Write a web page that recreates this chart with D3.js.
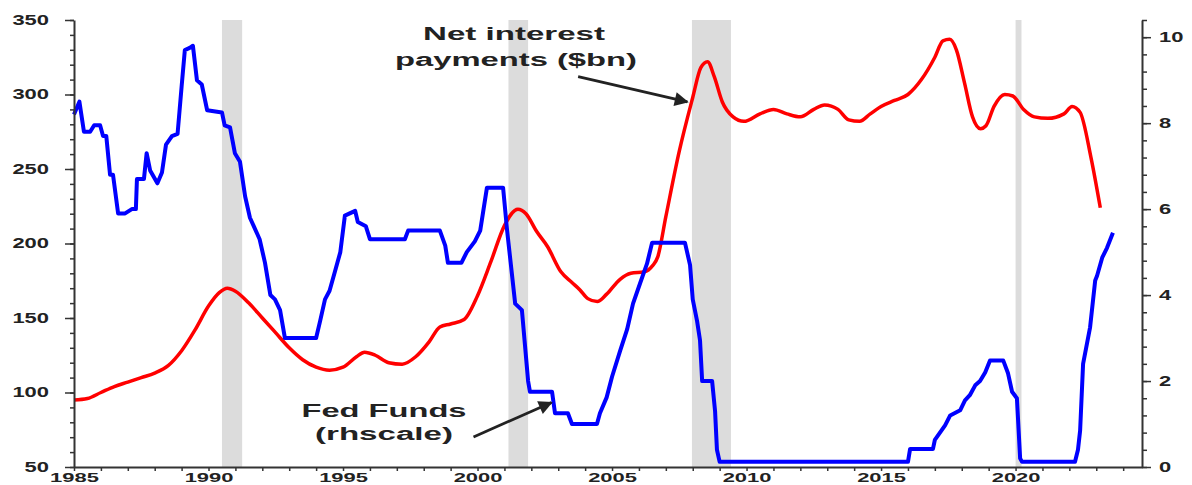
<!DOCTYPE html>
<meta charset="utf-8">
<style>
    body { margin: 0; background: #fff; }
    text { font-family: "Liberation Sans", Arial, sans-serif; font-weight: bold; fill: #222; }
</style>
<svg width="1192" height="485"></svg>
<script src="https://d3js.org/d3.v7.min.js"></script>
<script>

    // net interest payments ($bn), left scale
    var netYears = [1985.0, 1985.5, 1986.0, 1986.5, 1987.0, 1987.5, 1988.0, 1988.5, 1989.0, 1989.5,
        1990.0, 1990.4, 1990.7, 1991.0, 1991.5, 1992.0, 1992.5, 1993.0, 1993.5, 1994.0,
        1994.5, 1995.0, 1995.5, 1995.8, 1996.2, 1996.7, 1997.2, 1997.7, 1998.2, 1998.6,
        1999.0, 1999.5, 2000.0, 2000.5, 2001.0, 2001.5, 2001.8, 2002.2, 2002.6, 2003.1,
        2003.5, 2003.8, 2004.1, 2004.45, 2004.8, 2005.3, 2005.7, 2006.2, 2006.5, 2006.7,
        2007.0, 2007.5, 2008.0, 2008.3, 2008.55, 2008.8, 2009.1, 2009.5, 2009.9, 2010.5,
        2011.0, 2011.5, 2012.0, 2012.5, 2012.9, 2013.4, 2013.8, 2014.2, 2014.6, 2015.0,
        2015.5, 2016.0, 2016.5, 2017.0, 2017.3, 2017.55, 2017.8, 2018.1, 2018.4, 2018.7,
        2018.9, 2019.2, 2019.6, 2019.9, 2020.3, 2020.7, 2021.2, 2021.8, 2022.1, 2022.4,
        2022.8, 2023.15];
    var netPay = [95, 96, 100, 104, 107, 110, 113, 118, 128, 142,
        158, 167, 170, 168, 160, 150, 140, 130, 122, 117,
        115, 117, 124, 127, 125, 120, 119, 124, 134, 144,
        146, 149, 165, 188, 212, 223, 220, 208, 198, 181,
        174, 169, 163, 161, 166, 176, 180, 181, 185, 191,
        218, 262, 298, 318, 322, 312, 295, 285, 282, 287,
        290, 287, 285, 290, 293, 290, 283, 282, 287, 292,
        296, 300, 310, 325, 336, 337, 330, 308, 285, 277,
        279, 292, 300, 299, 290, 285, 284, 287, 292, 288,
        258, 224];

    // fed funds rate (%), right scale
    var fedYears = [1985.0, 1985.2, 1985.37, 1985.6, 1985.75, 1985.97, 1986.08, 1986.2, 1986.34, 1986.45,
        1986.64, 1986.9, 1987.15, 1987.3, 1987.34, 1987.6, 1987.7, 1987.83, 1988.1, 1988.27,
        1988.42, 1988.64, 1988.85, 1989.0, 1989.12, 1989.3, 1989.42, 1989.57, 1989.75, 1989.95,
        1990.5, 1990.6, 1990.8, 1990.98, 1991.17, 1991.36, 1991.54, 1991.9, 1992.1, 1992.3,
        1992.47, 1992.66, 1992.84, 1994.0, 1994.15, 1994.33, 1994.5, 1994.7, 1994.9, 1995.07,
        1995.45, 1995.55, 1995.85, 1996.0, 1997.3, 1997.42, 1998.6, 1998.8, 1998.9, 1999.4,
        1999.6, 1999.9, 2000.1, 2000.2, 2000.35, 2000.95, 2001.1, 2001.4, 2001.65, 2001.88,
        2001.95, 2002.77, 2002.88, 2003.36, 2003.51, 2004.44, 2004.55, 2004.8, 2005.0, 2005.3,
        2005.56, 2005.78, 2006.04, 2006.3, 2006.49, 2007.71, 2007.9, 2008.0, 2008.16, 2008.27,
        2008.35, 2008.72, 2008.83, 2008.9, 2009.0, 2016.0, 2016.08, 2016.93, 2017.0, 2017.38,
        2017.57, 2017.94, 2018.12, 2018.3, 2018.5, 2018.68, 2018.87, 2019.05, 2019.54, 2019.72,
        2019.87, 2020.05, 2020.17, 2020.24, 2022.21, 2022.32, 2022.4, 2022.51, 2022.77, 2022.96,
        2023.03, 2023.22, 2023.4, 2023.62];
    var fedRate = [8.2, 8.5, 7.8, 7.8, 7.95, 7.95, 7.7, 7.7, 6.8, 6.8,
        5.9, 5.9, 6.0, 6.0, 6.7, 6.7, 7.3, 6.9, 6.6, 6.85,
        7.5, 7.7, 7.75, 8.85, 9.7, 9.75, 9.8, 9.0, 8.9, 8.3,
        8.25, 7.95, 7.9, 7.3, 7.1, 6.3, 5.8, 5.3, 4.75, 4.0,
        3.9, 3.65, 3.0, 3.0, 3.4, 3.9, 4.1, 4.55, 5.0, 5.85,
        5.96, 5.7, 5.6, 5.3, 5.3, 5.5, 5.5, 5.15, 4.75, 4.75,
        5.0, 5.25, 5.5, 5.9, 6.5, 6.5, 5.5, 3.8, 3.65, 2.0,
        1.75, 1.75, 1.25, 1.25, 1.0, 1.0, 1.25, 1.62, 2.1, 2.7,
        3.2, 3.8, 4.27, 4.73, 5.22, 5.22, 4.7, 3.9, 3.4, 2.95,
        2.0, 2.0, 1.3, 0.4, 0.12, 0.12, 0.42, 0.42, 0.63, 0.97,
        1.2, 1.32, 1.55, 1.67, 1.9, 2.0, 2.2, 2.48, 2.48, 2.18,
        1.75, 1.6, 0.2, 0.12, 0.12, 0.4, 0.85, 2.4, 3.25, 4.34,
        4.45, 4.87, 5.1, 5.45];

    // recessions (shaded)
    var recStart = [1990.5, 2001.15, 2007.97, 2020.0];
    var recEnd = [1991.25, 2001.88, 2009.42, 2020.22];

    var leftTicks = [50, 100, 150, 200, 250, 300, 350];
    var rightTicks = [0, 2, 4, 6, 8, 10];
    var yearTicks = [1985, 1990, 1995, 2000, 2005, 2010, 2015, 2020];

    var svg = d3.select("svg");

    var x = d3.scaleLinear().domain([1985, 2024.7]).range([74, 1142]);
    var yL = d3.scaleLinear().domain([50, 350]).range([467, 20]);
    var yR = d3.scaleLinear().domain([0, 10.4]).range([467, 20]);

    // shaded recessions
    svg.append("g").selectAll("rect")
        .data(recStart)
        .enter().append("rect")
        .attr("x", function (d) { return x(d); })
        .attr("width", function (d, i) { return x(recEnd[i]) - x(d); })
        .attr("y", yL(350))
        .attr("height", yL(50) - yL(350))
        .attr("fill", "#dcdcdc");

    var netData = netYears.map(function (d, i) { return [d, netPay[i]]; });
    var fedData = fedYears.map(function (d, i) { return [d, fedRate[i]]; });

    svg.append("path")
        .datum(netData)
        .attr("fill", "none")
        .attr("stroke", "#ff0000")
        .attr("stroke-width", 3.5)
        .attr("stroke-linejoin", "round")
        .attr("d", d3.line()
            .curve(d3.curveMonotoneX)
            .x(function (d) { return x(d[0]); })
            .y(function (d) { return yL(d[1]); }));

    svg.append("path")
        .datum(fedData)
        .attr("fill", "none")
        .attr("stroke", "#0000ff")
        .attr("stroke-width", 4)
        .attr("stroke-linejoin", "round")
        .attr("d", d3.line()
            .x(function (d) { return x(d[0]); })
            .y(function (d) { return yR(d[1]); }));

    // axes
    function styleAxis(g, size) {
        g.select(".domain").attr("stroke", "#333").attr("stroke-width", 2);
        g.selectAll(".tick line").attr("stroke", "#333").attr("stroke-width", 1.5);
        g.selectAll(".tick text")
            .attr("font-size", size)
            .attr("fill", "#222")
            .attr("lengthAdjust", "spacingAndGlyphs")
            .attr("textLength", function () { return this.textContent.length * 12.2; });
    }

    svg.append("g")
        .attr("transform", "translate(74,0)")
        .call(d3.axisLeft(yL).tickValues(d3.range(50, 351, 10)).tickSize(4).tickFormat(""))
        .call(function (g) { g.select(".domain").remove(); g.selectAll("line").attr("stroke", "#333").attr("stroke-width", 1.5); });
    svg.append("g")
        .attr("transform", "translate(74,0)")
        .call(d3.axisLeft(yL).tickValues(leftTicks).tickSize(9).tickSizeOuter(0).tickPadding(16))
        .call(styleAxis, 14);

    svg.append("g")
        .attr("transform", "translate(1142,0)")
        .call(d3.axisRight(yR).tickValues(d3.range(0, 51).map(function (i) { return i * 0.4; }).filter(function (v) { return v <= 10.4; }))
            .tickSize(5).tickFormat(""))
        .call(function (g) { g.select(".domain").remove(); g.selectAll("line").attr("stroke", "#333").attr("stroke-width", 1.5); });
    svg.append("g")
        .attr("transform", "translate(1142,0)")
        .call(d3.axisRight(yR).tickValues(rightTicks).tickSize(9).tickSizeOuter(0).tickPadding(8))
        .call(styleAxis, 14);

    svg.append("g")
        .attr("transform", "translate(0,467)")
        .call(d3.axisBottom(x).tickValues(d3.range(1985, 2025)).tickSize(4).tickSizeOuter(0)
            .tickFormat(function (d) { return yearTicks.indexOf(d) >= 0 ? d : ""; })
            .tickPadding(2))
        .call(styleAxis, 12.5);

    // annotations
    svg.append("defs").append("marker")
        .attr("id", "head")
        .attr("viewBox", "0 0 10 10")
        .attr("refX", 9).attr("refY", 5)
        .attr("markerWidth", 6).attr("markerHeight", 5)
        .attr("markerUnits", "strokeWidth")
        .attr("orient", "auto")
        .append("path")
        .attr("d", "M0,0L10,5L0,10z")
        .attr("fill", "#222");

    svg.append("line")
        .attr("x1", x(2003.74)).attr("y1", yL(312))
        .attr("x2", x(2007.8)).attr("y2", yL(295))
        .attr("stroke", "#222").attr("stroke-width", 2.8)
        .attr("marker-end", "url(#head)");

    svg.append("line")
        .attr("x1", x(1999.85)).attr("y1", yR(0.7))
        .attr("x2", x(2002.75)).attr("y2", yR(1.5))
        .attr("stroke", "#222").attr("stroke-width", 2.8)
        .attr("marker-end", "url(#head)");

    var notes = [
        { t: "Net interest", cx: 514, y: 40, w: 182 },
        { t: "payments ($bn)", cx: 516, y: 66, w: 242 },
        { t: "Fed Funds", cx: 384, y: 417, w: 165 },
        { t: "(rhscale)", cx: 384, y: 440, w: 138 }
    ];
    svg.append("g").selectAll("text")
        .data(notes)
        .enter().append("text")
        .attr("x", function (d) { return d.cx - d.w / 2; })
        .attr("y", function (d) { return d.y; })
        .attr("font-size", 18)
        .attr("lengthAdjust", "spacingAndGlyphs")
        .attr("textLength", function (d) { return d.w; })
        .text(function (d) { return d.t; });

</script>
